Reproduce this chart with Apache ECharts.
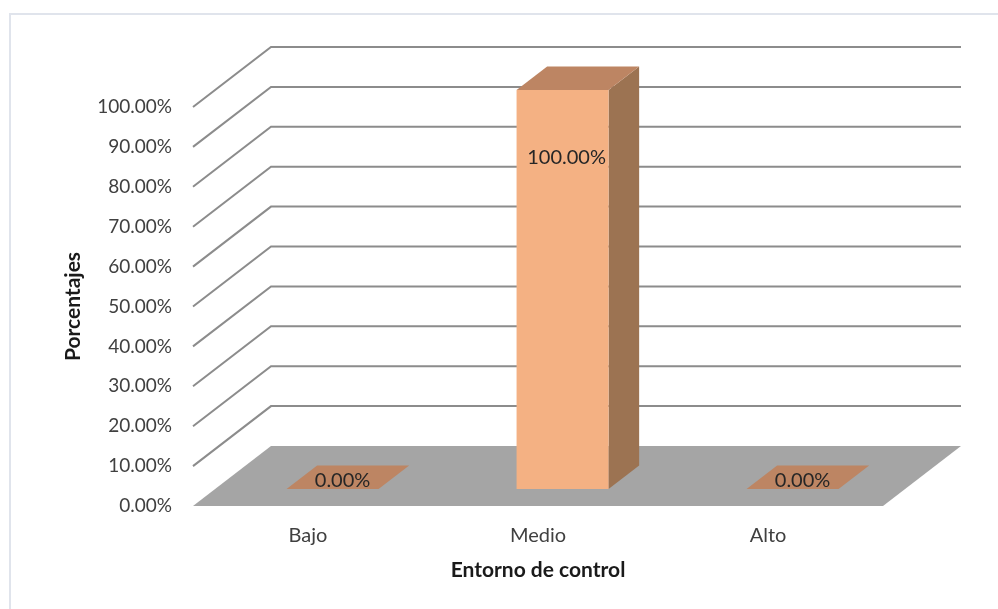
<!DOCTYPE html>
<html>
<head>
<meta charset="utf-8">
<script src="https://cdn.jsdelivr.net/npm/echarts@6/dist/echarts.min.js"></script>
<style>
  html, body { margin: 0; padding: 0; background: #ffffff; }
  #chart { width: 998px; height: 609px; }
</style>
</head>
<body>
<div id="chart"></div>
<script>
// Distribution of "Entorno de control" levels, in percent
const categories = ['Bajo', 'Medio', 'Alto'];
const percentages = [0, 100, 0];
const yTicks = [0, 10, 20, 30, 40, 50, 60, 70, 80, 90, 100];
const xAxisTitle = 'Entorno de control';
const yAxisTitle = 'Porcentajes';

// Oblique projection of the depth axis (pixels from the front plane to the back wall)
const DEPTH_X = 78;
const DEPTH_Y = -60;
// Where each column sits inside the floor depth (0 = front, 1 = back)
const COL_FRONT = 0.283;
const COL_BACK = 0.675;
const COL_WIDTH = 0.4;   // share of each category band
const COL_SHIFT = 2.5;   // small horizontal nudge of the columns

const FONT = 'Lato';
const fmtPct = v => v.toFixed(2) + '%';

const chart = echarts.init(document.getElementById('chart'), null, { renderer: 'canvas' });

// Back wall gridlines: diagonal from the front edge, then across the back wall
function renderWall(params, api) {
  const cs = params.coordSys;
  const y = api.coord([0, api.value(1)])[1];
  const left = cs.x;
  const right = cs.x + cs.width;
  return {
    type: 'polyline',
    shape: { points: [[left, y], [left + DEPTH_X, y + DEPTH_Y], [right + DEPTH_X, y + DEPTH_Y]] },
    style: { stroke: '#8c8c8c', lineWidth: 2, fill: null }
  };
}

// Grey floor of the 3-D plot area
function renderFloor(params, api) {
  const cs = params.coordSys;
  const y = api.coord([0, api.value(1)])[1];
  const left = cs.x;
  const right = cs.x + cs.width;
  return {
    type: 'polygon',
    shape: { points: [[left, y], [left + DEPTH_X, y + DEPTH_Y], [right + DEPTH_X, y + DEPTH_Y], [right, y]] },
    style: { fill: '#a5a5a5' }
  };
}

// 3-D columns: front face, top face and right side face
function renderColumn(params, api) {
  const idx = api.value(0);
  const v = api.value(1);
  const base = api.coord([idx, 0]);
  const top = api.coord([idx, v]);
  const band = api.size([1, 0])[0];
  const w = band * COL_WIDTH;
  const ox = COL_FRONT * DEPTH_X + COL_SHIFT, oy = COL_FRONT * DEPTH_Y;
  const dx = (COL_BACK - COL_FRONT) * DEPTH_X, dy = (COL_BACK - COL_FRONT) * DEPTH_Y;
  const x0 = base[0] - w / 2 + ox, x1 = x0 + w;
  const yb = base[1] + oy, yt = top[1] + oy;
  const children = [];
  const topFace = {
    type: 'polygon',
    shape: { points: [[x0, yt], [x0 + dx, yt + dy], [x1 + dx, yt + dy], [x1, yt]] },
    style: { fill: '#bd8563' }
  };
  if (v > 0) {
    children.push({
      type: 'polygon',
      shape: { points: [[x1, yt], [x1 + dx, yt + dy], [x1 + dx, yb + dy], [x1, yb]] },
      style: { fill: '#9c7352' }
    });
    children.push({
      type: 'rect',
      shape: { x: x0, y: yt, width: w, height: yb - yt },
      style: { fill: '#f4b183' }
    });
    children.push(topFace);
    children.push({
      type: 'text',
      style: {
        text: fmtPct(v), x: (x0 + x1) / 2 + 4, y: yt + 68,
        align: 'center', verticalAlign: 'middle',
        font: '20px ' + FONT, fill: '#262626'
      }
    });
  } else {
    children.push(topFace);
    children.push({
      type: 'text',
      style: {
        text: fmtPct(v), x: (x0 + x1) / 2 + 10, y: yb - 8,
        align: 'center', verticalAlign: 'middle',
        font: '20px ' + FONT, fill: '#262626'
      }
    });
  }
  return { type: 'group', children };
}

const option = {
  animation: false,
  backgroundColor: '#ffffff',
  graphic: [{
    type: 'rect',
    shape: { x: 10, y: 14, width: 1000, height: 700 },
    style: { fill: null, stroke: '#e0e4ec', lineWidth: 2 },
    silent: true
  }],
  grid: { left: 193, right: 115, top: 107, bottom: 103 },
  xAxis: {
    type: 'category',
    data: categories,
    boundaryGap: true,
    axisLine: { show: false },
    axisTick: { show: false },
    axisLabel: { margin: 20, fontFamily: FONT, fontSize: 20, color: '#404040' },
    name: xAxisTitle,
    nameLocation: 'middle',
    nameGap: 54,
    nameTextStyle: { fontFamily: FONT, fontSize: 21, fontWeight: 'bold', color: '#1a1a1a' }
  },
  yAxis: {
    type: 'value',
    min: yTicks[0],
    max: yTicks[yTicks.length - 1],
    interval: yTicks[1] - yTicks[0],
    axisLine: { show: false },
    axisTick: { show: false },
    splitLine: { show: false },
    axisLabel: { margin: 21, fontFamily: FONT, fontSize: 19, color: '#404040', formatter: fmtPct },
    name: yAxisTitle,
    nameLocation: 'middle',
    nameGap: 109,
    nameRotate: 90,
    nameTextStyle: { fontFamily: FONT, fontSize: 21, fontWeight: 'bold', color: '#1a1a1a' }
  },
  series: [
    {
      type: 'custom',
      name: 'wall',
      clip: false,
      silent: true,
      renderItem: renderWall,
      data: yTicks.filter(t => t > 0).map(t => [0, t]),
      z: 1
    },
    {
      type: 'custom',
      name: 'floor',
      clip: false,
      silent: true,
      renderItem: renderFloor,
      data: [[0, yTicks[0]]],
      z: 2
    },
    {
      type: 'custom',
      name: 'Porcentajes',
      clip: false,
      renderItem: renderColumn,
      data: percentages.map((v, i) => [i, v]),
      z: 3
    }
  ]
};

chart.setOption(option);
</script>
</body>
</html>
